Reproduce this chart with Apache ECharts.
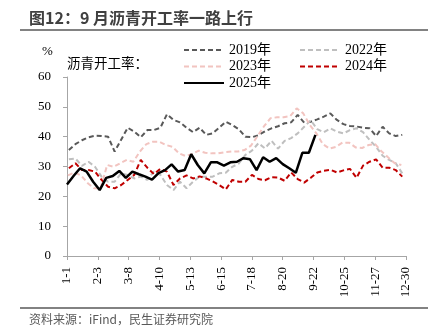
<!DOCTYPE html>
<html><head><meta charset="utf-8">
<script src="https://cdn.jsdelivr.net/npm/echarts@6/dist/echarts.min.js"></script>
<style>html,body{margin:0;padding:0;background:#fff}#c{width:428px;height:333px}</style>
</head><body><div id="c"></div>
<script>
// x tick labels (MM-DD), every 33 days from 1-1
const tickLabels = ['1-1','2-3','3-8','4-10','5-13','6-15','7-18','8-20','9-22','10-25','11-27','12-30'];
const yearNames = ['2019年','2022年','2023年','2024年','2025年'];
// weekly asphalt operating rate (%), first observation day-of-year per year
const firstDay2019 = 2, firstDay2022 = 2, firstDay2023 = 1, firstDay2024 = 2, firstDay2025 = 0;
const v2019 = [35.5,37.5,38.8,39.8,40.3,40.2,40.0,35.0,39.0,43.0,41.7,39.8,42.2,42.2,43.0,47.5,45.6,44.8,43.0,41.5,43.0,40.6,41.1,43.0,45.0,43.9,42.5,40.0,39.8,40.5,41.8,42.8,43.5,44.5,44.8,47.3,44.7,45.0,45.8,46.7,47.8,45.6,44.2,43.6,43.4,43.0,42.8,40.2,43.3,41.1,40.2,40.6];
const v2022 = [32.4,32.7,30.2,31.6,29.9,26.6,24.9,24.9,27.7,27.2,26.0,26.6,25.5,28.3,27.2,23.8,22.1,24.9,22.7,24.9,26.6,26.6,26.6,27.7,27.9,29.9,31.0,33.9,35.3,37.8,36.1,38.6,36.0,38.6,39.5,41.1,43.3,45.5,42.5,41.5,42.8,41.7,41.1,42.2,42.8,41.5,38.9,36.6,33.6,32.2,31.1,27.7];
const v2023 = [27.0,28.0,27.0,24.5,22.7,22.7,30.5,29.9,31.1,32.2,31.6,35.0,37.5,38.3,38.3,37.2,36.6,34.4,33.5,34.2,35.3,34.6,34.4,34.4,34.8,35.0,35.0,35.5,37.0,40.2,43.5,46.2,46.5,46.5,46.9,49.5,47.8,43.9,41.1,37.5,36.0,36.6,38.0,38.0,36.4,36.2,37.2,37.5,35.0,33.0,31.1,30.5];
const v2024 = [29.4,31.1,28.8,28.8,28.3,25.5,23.2,22.7,23.8,25.5,27.2,32.2,29.6,27.5,29.2,28.3,23.8,26.0,27.0,26.0,26.7,26.0,25.0,23.8,22.3,25.5,24.9,24.9,27.2,25.8,25.4,26.4,26.3,25.2,28.0,25.8,24.6,26.2,28.0,28.6,28.9,28.0,28.7,29.2,26.2,30.3,31.6,32.4,29.6,29.6,28.8,26.6];
const v2025 = [24.0,26.8,29.4,28.3,24.9,22.1,26.2,26.8,28.5,26.2,28.3,27.4,26.6,25.6,27.8,28.8,30.7,28.3,28.8,34.1,30.5,27.7,31.4,31.4,30.3,31.4,31.6,32.8,32.4,28.8,33.1,31.6,32.8,30.8,29.4,27.9,34.6,34.6,40.6];

function weekly(first, vals){ return vals.map((v,i)=>[first + 7*i, v]); }

const serif = "'Liberation Serif','Noto Sans CJK SC',serif";

function dashed(name, data, color){
  return {name, type:'line', data, symbol:'none', smooth:false,
    lineStyle:{color, width:2, type:[5,3]}, itemStyle:{color}, z:2};
}

const legendCommon = {orient:'vertical', top:43, itemWidth:40, itemHeight:14, itemGap:2.5, padding:0,
  itemStyle:{opacity:0},
  textStyle:{fontSize:14, fontFamily:serif, color:'#000', lineHeight:14}};

const chart = echarts.init(document.getElementById('c'), null, {renderer:'canvas'});
chart.setOption({
  animation:false,
  backgroundColor:'#fff',
  grid:{left:67, right:22, top:77, bottom:77},
  xAxis:{type:'value', min:0, max:363, interval:33,
    axisLine:{lineStyle:{color:'#a6a6a6', width:1}},
    axisTick:{show:true, length:4, lineStyle:{color:'#a6a6a6'}},
    splitLine:{show:false},
    axisLabel:{rotate:90, margin:11, fontSize:13, fontFamily:serif, color:'#000',
      formatter:(v)=>tickLabels[Math.round(v/33)] || ''}},
  yAxis:{type:'value', min:0, max:60, interval:10,
    axisLine:{show:true, lineStyle:{color:'#a6a6a6', width:1}},
    axisTick:{show:true, length:4, lineStyle:{color:'#a6a6a6'}},
    splitLine:{show:false},
    axisLabel:{margin:16, fontSize:13, fontFamily:serif, color:'#000'}},
  legend:[
    Object.assign({data:[yearNames[0], yearNames[2], yearNames[4]], left:183}, legendCommon),
    Object.assign({data:[yearNames[1], yearNames[3]], left:299}, legendCommon)
  ],
  series:[
    dashed(yearNames[0], weekly(firstDay2019, v2019), '#595959'),
    dashed(yearNames[1], weekly(firstDay2022, v2022), '#bfbfbf'),
    dashed(yearNames[2], weekly(firstDay2023, v2023), '#f2c4c0'),
    dashed(yearNames[3], weekly(firstDay2024, v2024), '#c00000'),
    {name:yearNames[4], type:'line', data:weekly(firstDay2025, v2025), symbol:'none',
      lineStyle:{color:'#000', width:2.5, type:'solid'}, itemStyle:{color:'#000'}, z:3}
  ],
  graphic:[
    {type:'text', left:29, top:10, style:{text:'图12：9 月沥青开工率一路上行', font:"bold 16px 'Noto Sans CJK SC',sans-serif", fill:'#404040'}},
    {type:'line', shape:{x1:20, y1:30, x2:428, y2:30}, style:{stroke:'#595959', lineWidth:1.5}},
    {type:'text', left:42, top:45, style:{text:'%', font:"13px 'Liberation Serif',serif", fill:'#000'}},
    {type:'text', left:67, top:56, style:{text:'沥青开工率：', font:"13.5px 'Noto Sans CJK SC',sans-serif", fill:'#000'}},
    {type:'line', shape:{x1:20, y1:308, x2:428, y2:308}, style:{stroke:'#595959', lineWidth:1.5}},
    {type:'text', left:29, top:313, style:{text:'资料来源：iFind，民生证券研究院', font:"12px 'Noto Sans CJK SC',sans-serif", fill:'#595959'}}
  ]
});
</script></body></html>
